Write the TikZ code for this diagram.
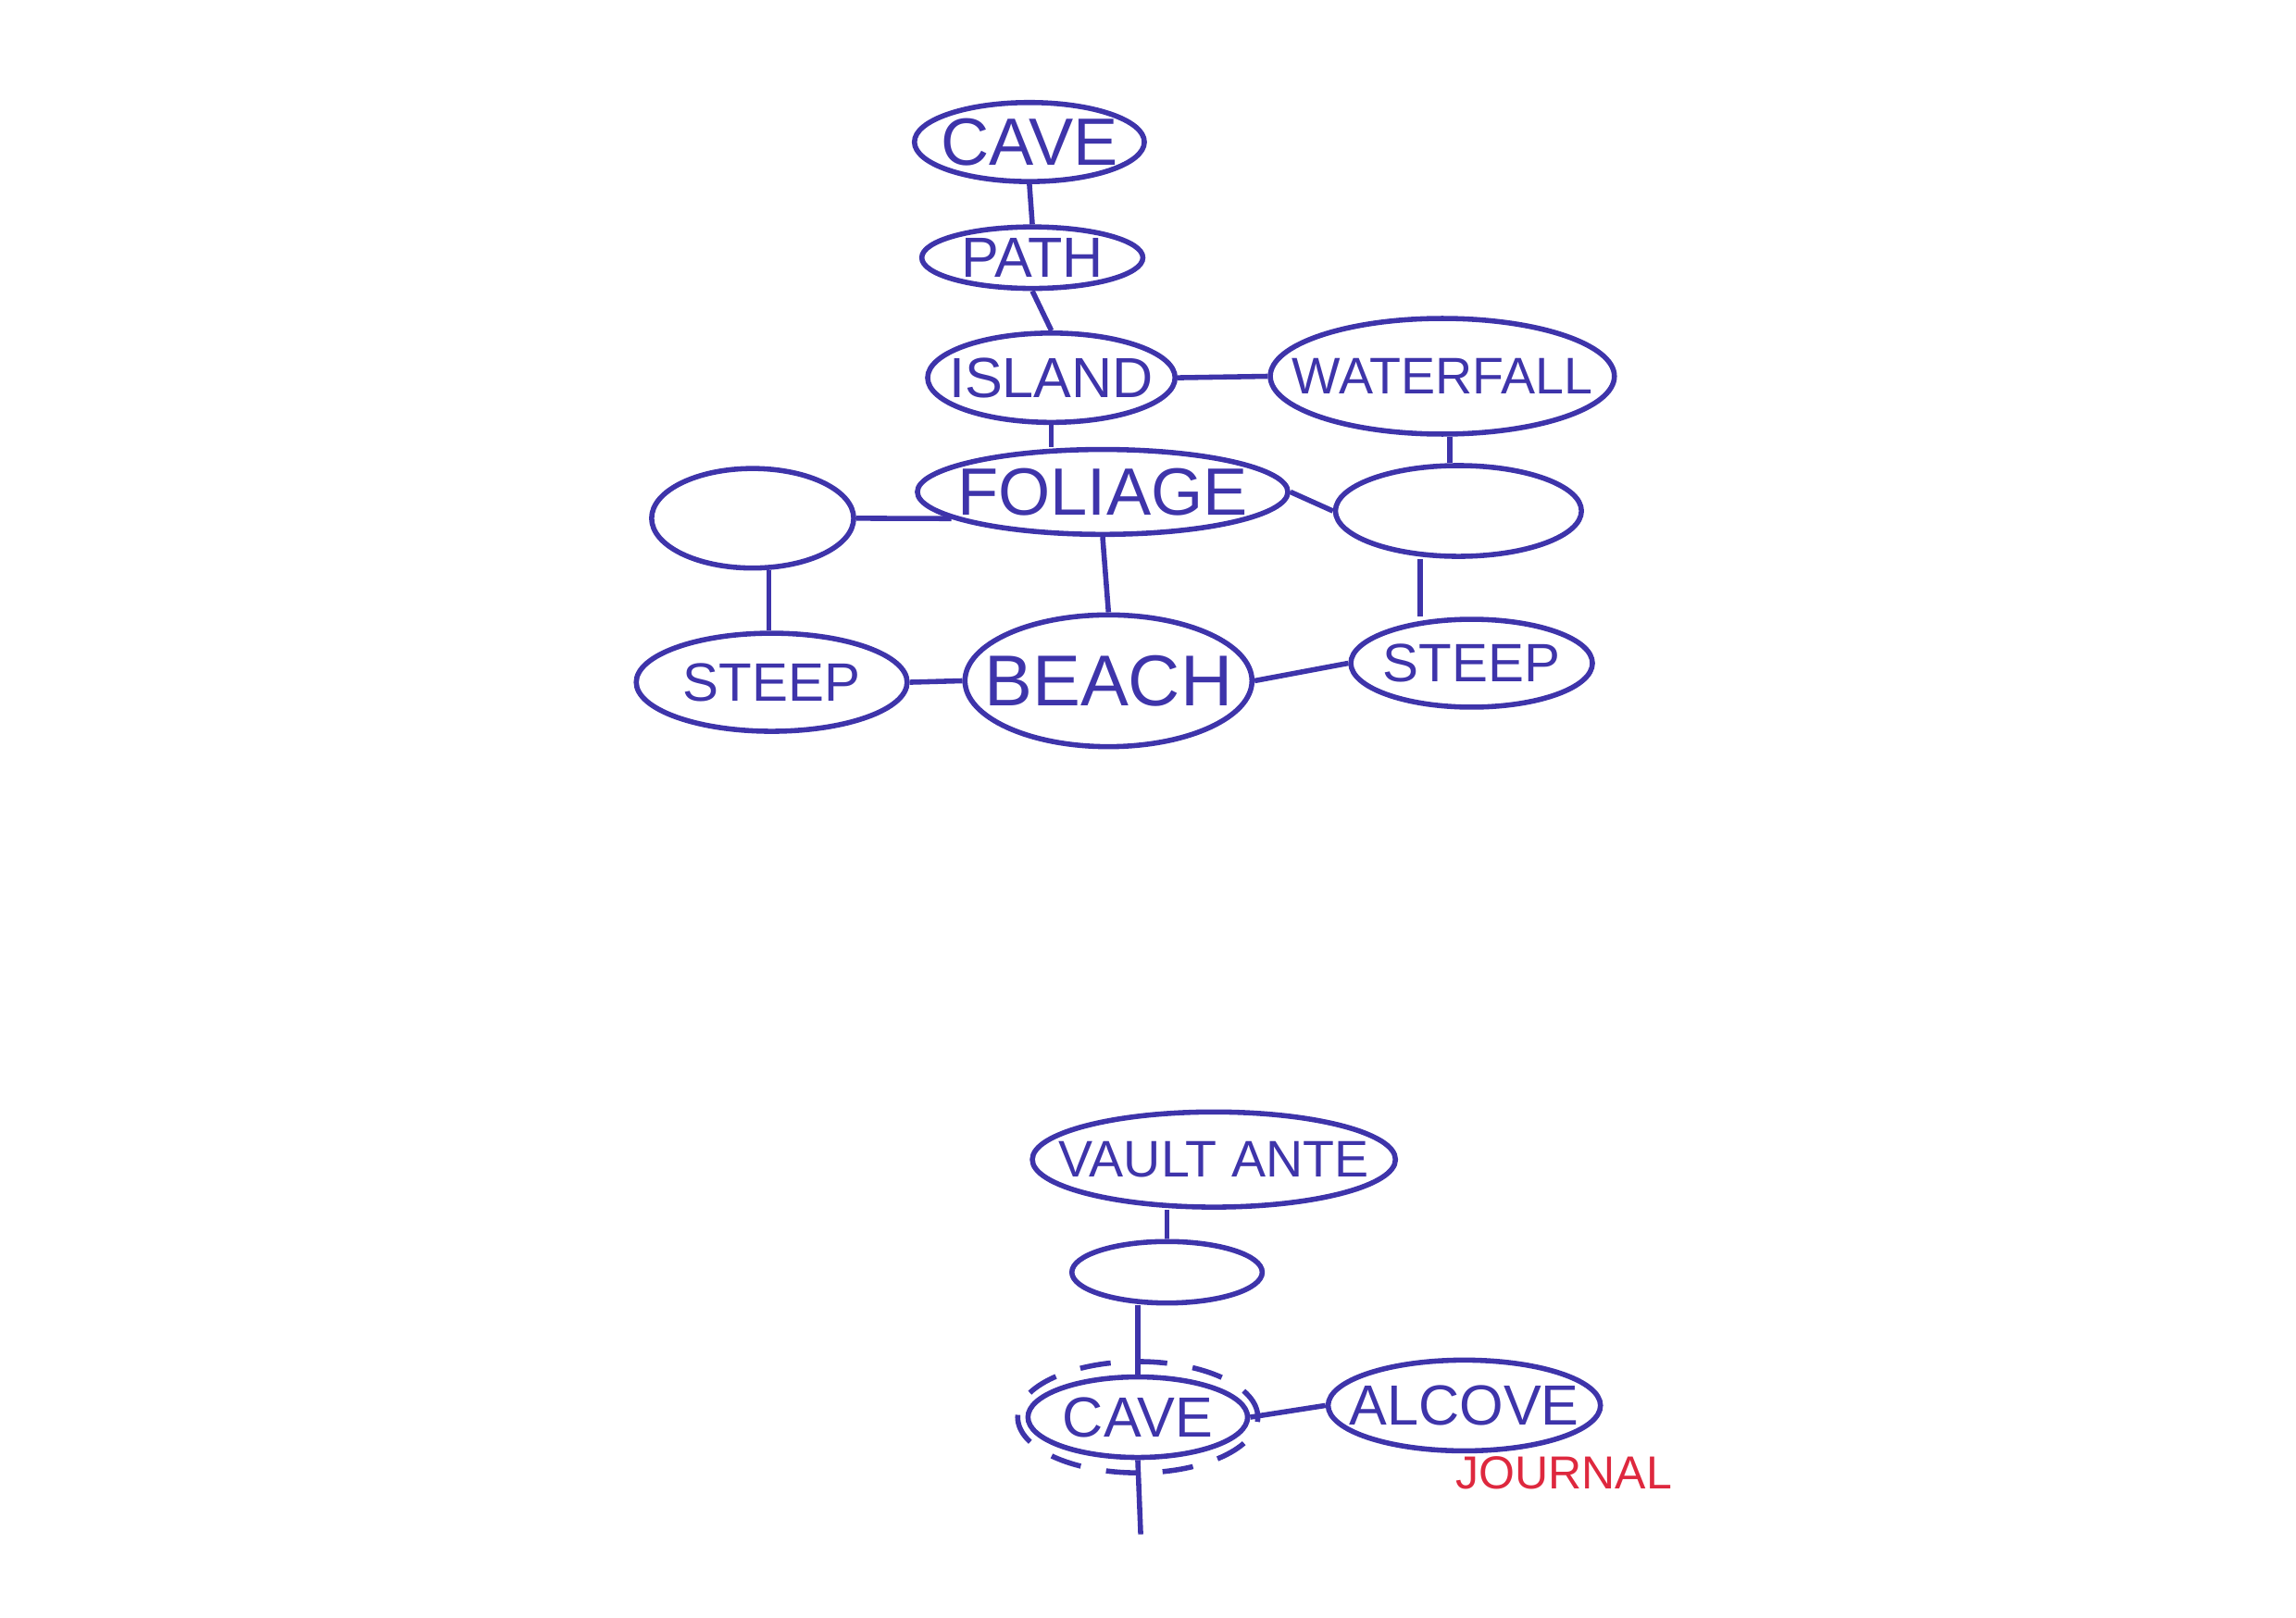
\documentclass[tikz,border=0pt]{standalone}
\usepackage{fontspec}
\setmainfont{Liberation Sans}
\usetikzlibrary{shapes.geometric}
\definecolor{pen}{RGB}{62,52,170}
\definecolor{redpen}{RGB}{222,40,62}
\begin{document}
\begin{tikzpicture}[
        spot/.style={draw=pen, ellipse, line width=1pt, text=pen, inner xsep=-1.6cm, inner ysep=-0.4cm,
            font=\fontsize{11}{11}\selectfont},
        link/.style={draw=pen, line width=1pt}
    ]
    \useasboundingbox (0,0) rectangle (15.68,-11.05);
    % Island map
    \node[spot, minimum width=1.57cm, minimum height=0.54cm, font=\fontsize{13}{13}\selectfont] (cave) at (7.03,-0.97) {CAVE};
    \node[spot, minimum width=1.51cm, minimum height=0.42cm] (path) at (7.05,-1.76) {PATH};
    \node[spot, minimum width=1.69cm, minimum height=0.61cm] (island) at (7.18,-2.58) {ISLAND};
    \node[spot, minimum width=2.35cm, minimum height=0.79cm, font=\fontsize{10}{10}\selectfont] (waterfall) at (9.85,-2.57) {WATERFALL};
    \node[spot, minimum width=2.53cm, minimum height=0.58cm, font=\fontsize{13}{13}\selectfont] (foliage) at (7.53,-3.36) {FOLIAGE};
    \node[spot, minimum width=1.38cm, minimum height=0.68cm] (left) at (5.14,-3.54) {};
    \node[spot, minimum width=1.68cm, minimum height=0.62cm] (right) at (9.96,-3.49) {};
    \node[spot, minimum width=1.85cm, minimum height=0.67cm, font=\fontsize{10.5}{10.5}\selectfont] (steepL) at (5.27,-4.66) {STEEP};
    \node[spot, minimum width=1.96cm, minimum height=0.90cm, font=\fontsize{14}{14}\selectfont] (beach) at (7.57,-4.65) {BEACH};
    \node[spot, minimum width=1.65cm, minimum height=0.60cm, font=\fontsize{10.5}{10.5}\selectfont] (steepR) at (10.05,-4.53) {STEEP};
    % Links
    \draw[link] (cave.south) -- (path.north);
    \draw[link] (path.south) -- (island.north);
    \draw[link] (island.east) -- (waterfall.west);
    \draw[link] (island.south) -- (island.south |- foliage.north);
    \draw[link] ([xshift=0.05cm]waterfall.south) -- ([xshift=0.05cm]waterfall.south |- right.north);
    \draw[link] (foliage.190) -- (left.east);
    \draw[link] (foliage.east) -- (right.west);
    \draw[link] ([xshift=0.11cm]left.south) -- ([xshift=0.11cm]left.south |- steepL.north);
    \draw[link] (foliage.south) -- (beach.north);
    \draw[link] ([xshift=-0.26cm]right.south) -- ([xshift=-0.26cm]right.south |- steepR.north);
    \draw[link] (steepL.east) -- (beach.west);
    \draw[link] (beach.east) -- (steepR.west);
    % Vault
    \node[spot, minimum width=2.48cm, minimum height=0.65cm, font=\fontsize{10}{10}\selectfont] (vault) at (8.29,-7.92) {VAULT ANTE};
    \node[spot, minimum width=1.30cm, minimum height=0.42cm] (hollow) at (7.97,-8.69) {};
    \node[spot, minimum width=1.50cm, minimum height=0.55cm] (cave2) at (7.77,-9.68) {CAVE};
    \node[spot, dashed, dash pattern=on 6pt off 5pt, minimum width=1.64cm, minimum height=0.76cm] (ring) at (cave2) {};
    \node[spot, minimum width=1.86cm, minimum height=0.62cm] (alcove) at (10.00,-9.60) {ALCOVE};
    \node[text=redpen, font=\fontsize{9}{9}\selectfont] (journal) at (10.68,-10.06) {JOURNAL};
    \coordinate (exit) at (7.79,-10.48);
    \draw[link] (hollow.north) -- (hollow.north |- vault.south);
    \draw[link] (cave2.north |- hollow.south) -- (cave2.north);
    \draw[link] (cave2.east) -- (alcove.west);
    \draw[link] (cave2.south) -- (exit);
\end{tikzpicture}
\end{document}
